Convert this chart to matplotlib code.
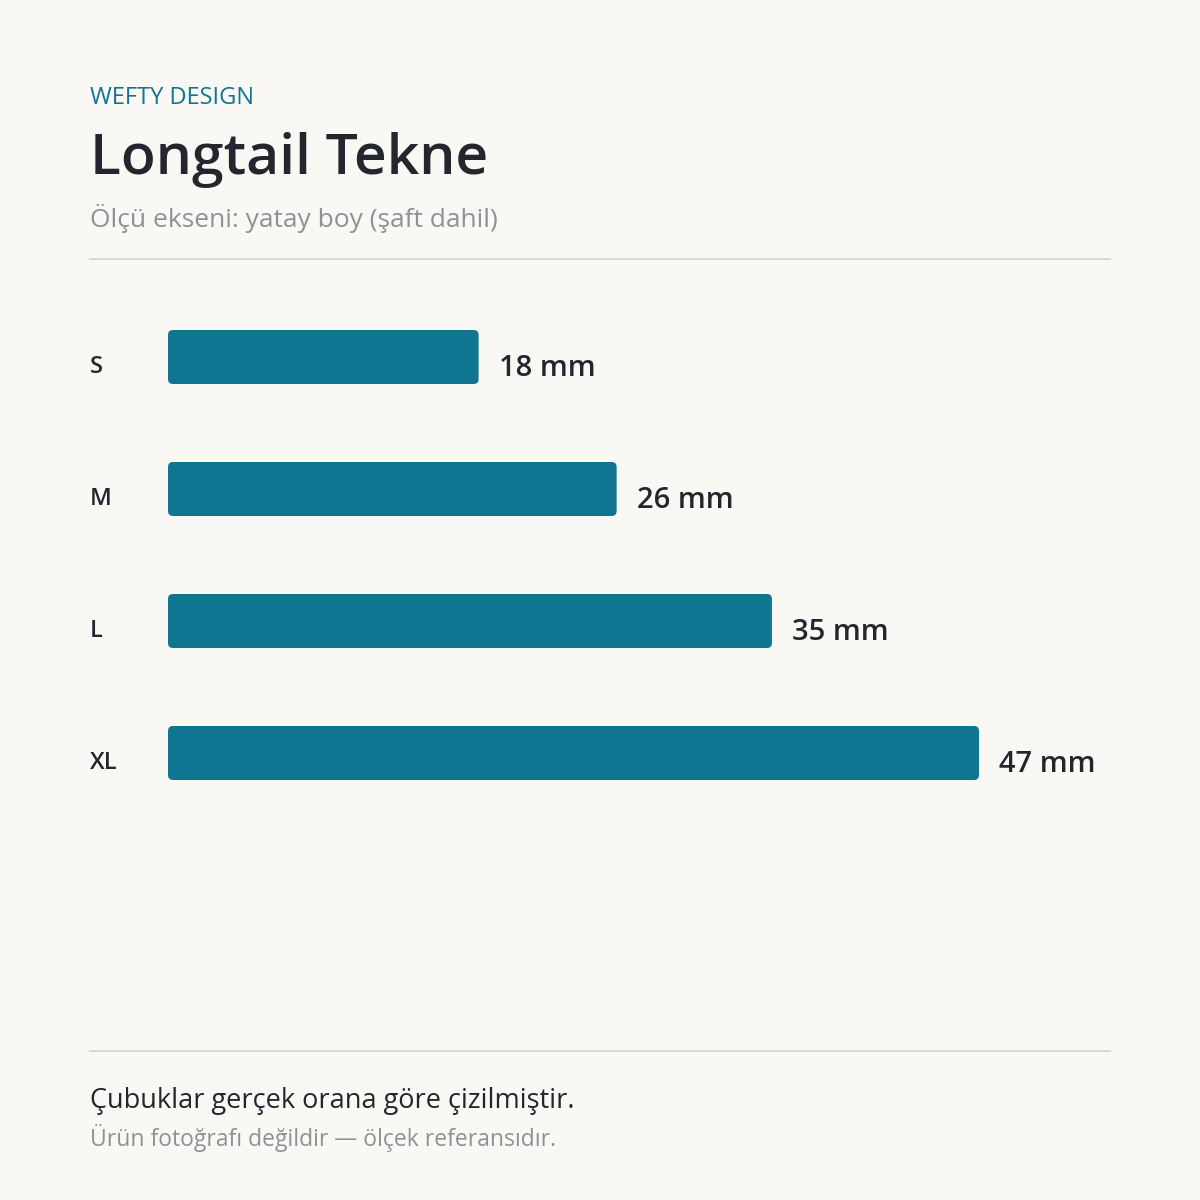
import matplotlib
matplotlib.use("Agg")
import matplotlib.pyplot as plt
from matplotlib.patches import FancyBboxPatch
from matplotlib.lines import Line2D

categories = ["S", "M", "L", "XL"]
values = [18, 26, 35, 47]
unit = "mm"
brand = "WEFTY DESIGN"
title = "Longtail Tekne"
subtitle = "Ölçü ekseni: yatay boy (şaft dahil)"
foot1 = "Çubuklar gerçek orana göre çizilmiştir."
foot2 = "Ürün fotoğrafı değildir — ölçek referansıdır."

BG = "#f9f8f5"; BAR = "#0f7591"; DARK = "#23262d"; GRAY = "#8e9196"; RULE = "#d9d9d6"
FONT = ["Open Sans", "DejaVu Sans"]

W = H = 1200
fig = plt.figure(figsize=(12, 12), dpi=100, facecolor=BG)

def fy(py): return 1 - py / H
def fx(px): return px / W

fig.text(fx(90), fy(98), brand, color=BAR, fontsize=17, family=FONT, va="center")
fig.text(fx(90), fy(160), title, color=DARK, fontsize=41, family=FONT, weight="semibold", va="center")
fig.text(fx(90), fy(218), subtitle, color=GRAY, fontsize=19, family=FONT, va="center")
for y in (259, 1051):
    fig.add_artist(Line2D([fx(90), fx(1110)], [fy(y), fy(y)], color=RULE, lw=1.5, transform=fig.transFigure))
fig.text(fx(90), fy(1101), foot1, color=DARK, fontsize=19.5, family=FONT, va="center")
fig.text(fx(90), fy(1138), foot2, color=GRAY, fontsize=16.5, family=FONT, va="center")

# bars axes: x 168..1110 px, y 290..820 px
ax = fig.add_axes([fx(168), fy(820), fx(1110 - 168), (820 - 290) / H])
ax.set_facecolor("none")
pxmm = 811 / 47.0
ax.set_xlim(0, 942 / pxmm)
ax.set_ylim(3 + (820 - 753) / 132, -(357 - 290) / 132)
ax.axis("off")
h = 54 / 132
aspect = (1 / 132) / (1 / pxmm)
for i, (c, v) in enumerate(zip(categories, values)):
    p = FancyBboxPatch((0, i - h / 2), v, h, boxstyle=f"round,pad=0,rounding_size={5/pxmm}",
                       mutation_aspect=aspect, fc=BAR, ec="none")
    ax.add_patch(p)
    ax.text(v + 20 / pxmm, i + 11 / 132, f"{v} {unit}", color=DARK, fontsize=21, family=FONT,
            weight="semibold", va="center", ha="left")
    fig.text(fx(90), fy(357 + 132 * i + 10), c, color=DARK, fontsize=17, family=FONT,
             weight="semibold", va="center")

fig.savefig("out.png", dpi=100, facecolor=BG)
